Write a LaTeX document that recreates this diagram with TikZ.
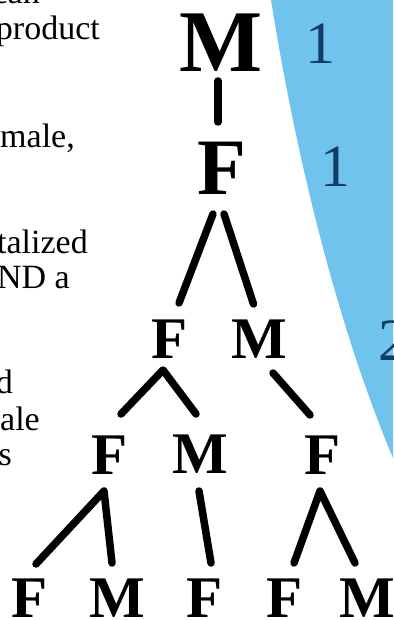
\documentclass[tikz,border=0pt]{standalone}
\usepackage{fontspec}
\setmainfont{Liberation Serif}
\usetikzlibrary{calc}
\definecolor{skyfill}{RGB}{112,195,237}
\definecolor{numblue}{RGB}{18,60,100}
\begin{document}
\begin{tikzpicture}[x=1pt,y=1pt,
  bigletter/.style={inner sep=0pt,anchor=base,font=\bfseries\fontsize{#1}{#1}\selectfont},
  letter/.style={bigletter=59},
  link/.style={line width=7.5pt,line cap=round,line join=round},
  num/.style={inner sep=0pt,anchor=base,text=numblue,font=\fontsize{60}{60}\selectfont},
  side/.style={inner sep=0pt,anchor=base east,font=\fontsize{34}{34}\selectfont}]
\useasboundingbox (0,0) rectangle (393,-620);
\fill[white] (0,0) rectangle (393,-620);
% blue band
\fill[skyfill] (271,0) .. controls (295,-150) and (335,-320) .. (393,-458) -- (393,0) -- cycle;
% numbers
\node[num] (n1) at (320,-64) {1};
\node[num] (n2) at (335,-187) {1};
\node[num,anchor=base west] (n3) at (378,-360) {2};
% side text
\node[side] (t1) at (40,-4) {can};
\node[side] (t2) at (100,-40) {product};
\node[side] (t3) at (75,-148) {male,};
\node[side] (t4) at (88,-253) {talized};
\node[side] (t5) at (70,-288) {ND a};
\node[side] (t6) at (13,-393) {d};
\node[side] (t7) at (40,-430) {ale};
\node[side] (t8) at (12,-465) {s};
% tree letters
\node[bigletter=88] (M1) at (221,-72) {M};
\node[bigletter=80] (F2) at (222,-195) {F};
\node[letter] (F3a) at (170,-358) {F};
\node[letter] (M3) at (259.5,-358) {M};
\node[letter] (F4a) at (110,-474) {F};
\node[letter] (M4) at (200,-473) {M};
\node[letter] (F4b) at (323,-474) {F};
\node[letter] (F5a) at (30,-617) {F};
\node[letter] (M5a) at (117,-617) {M};
\node[letter] (F5b) at (205,-617) {F};
\node[letter] (F5c) at (285,-617) {F};
\node[letter] (M5b) at (367,-617) {M};
% connectors
\draw[link] ($(M1.base)+(-3,-9)$) -- ($(F2.base)+(-4,73)$);
\draw[link] ($(F2.base)+(-9,-19)$) -- ($(F3a.base)+(9,55)$);
\draw[link] ($(F2.base)+(2,-19)$) -- ($(M3.base)+(-6,54)$);
\draw[link] ($(F4a.base)+(11,60)$) -- ($(F3a.base)+(-7,-12)$) -- ($(M4.base)+(-4,59)$);
\draw[link] ($(M3.base)+(13.5,-15)$) -- ($(F4b.base)+(-13,59)$);
\draw[link] ($(F5a.base)+(6,53)$) -- ($(F4a.base)+(-6,-17)$) -- ($(M5a.base)+(-5,54)$);
\draw[link] ($(M4.base)+(-1,-18)$) -- ($(F5b.base)+(6,54)$);
\draw[link] ($(F5c.base)+(9,54)$) -- ($(F4b.base)+(-3,-17)$) -- ($(M5b.base)+(-12,54)$);
\end{tikzpicture}
\end{document}
